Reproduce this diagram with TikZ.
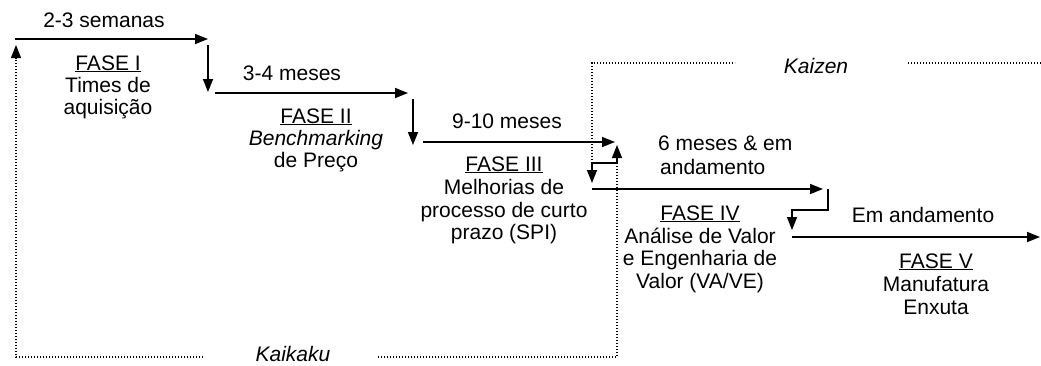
\documentclass[tikz,border=0pt]{standalone}
\usepackage{fontspec}
\setmainfont{Liberation Sans}
\usetikzlibrary{arrows.meta}
\newcommand\faseul[1]{\setbox0\hbox{#1}\rlap{\rule[-2.4pt]{\wd0}{1.5pt}}\box0}
\begin{document}
\begin{tikzpicture}[x=1pt,y=-1pt,
  txt/.style={inner sep=0pt,anchor=base,font=\fontsize{21}{22.5}\selectfont},
  ltxt/.style={txt,anchor=base west},
  itxt/.style={txt,font=\fontsize{21}{22.5}\selectfont\itshape},
  flow/.style={line width=1.5pt,-{Triangle[length=13pt,width=10pt]}},
  dots/.style={line width=1.3pt,dash pattern=on 1.3pt off 1.7pt},
  dotarrow/.style={dots,-{Triangle[length=13pt,width=10pt,sep=0pt]}}]
\useasboundingbox (0,0) rectangle (1041,365);

% coordinates
\coordinate (p1s) at (15,39);   \coordinate (p1e) at (208,39);
\coordinate (d1s) at (208,45);  \coordinate (d1e) at (208,92);
\coordinate (p2s) at (215,93);  \coordinate (p2e) at (408,93);
\coordinate (d2s) at (413,99);  \coordinate (d2e) at (413,145);
\coordinate (p3s) at (423,142); \coordinate (p3e) at (615,142);
\coordinate (j3) at (617,163);  \coordinate (u3e) at (617,145);
\coordinate (h3) at (592,163);  \coordinate (h3e) at (592,183);
\coordinate (p4s) at (592,189); \coordinate (p4e) at (823,189);
\coordinate (v4s) at (828,189); \coordinate (v4m) at (828,210);
\coordinate (h4e) at (792,230);
\coordinate (p5s) at (792,237); \coordinate (p5e) at (1040,237);
\coordinate (kkb) at (617,357); \coordinate (kkr) at (377,357);
\coordinate (kkl) at (203,357); \coordinate (kbl) at (16,357);
\coordinate (kkt) at (16,45);
\coordinate (kzt) at (592,63);  \coordinate (kzl) at (735,63);
\coordinate (kzr) at (908,63);  \coordinate (kze) at (1041,63);

% solid flow
\draw[flow] (p1s) -- (p1e);
\draw[flow] (d1s) -- (d1e);
\draw[flow] (p2s) -- (p2e);
\draw[flow] (d2s) -- (d2e);
\draw[flow] (p3s) -- (p3e);
\draw[flow] (j3) -- (u3e);
\draw[flow] (j3) -- (h3) -- (h3e);
\draw[flow] (p4s) -- (p4e);
\draw[flow] (v4s) -- (v4m) -| (h4e);
\draw[flow] (p5s) -- (p5e);

% dotted loops
\draw[dots] (j3) -- (kkb) -- (kkr);
\draw[dotarrow] (kkl) -- (kbl) -- (kkt);
\draw[dots] (h3) -- (kzt) -- (kzl);
\draw[dots] (kzr) -- (kze);

% labels
\node[txt] (t1) at (104,27) {2-3 semanas};
\node[txt] (f1a) at (108,70) {\faseul{FASE I}};
\node[txt] (f1b) at (108,92) {Times de};
\node[txt] (f1c) at (108,114) {aquisição};

\node[txt] (t2) at (292,80) {3-4 meses};
\node[txt] (f2a) at (316,123) {\faseul{FASE II}};
\node[txt] (f2b) at (316,145) {\itshape Benchmarking};
\node[txt] (f2c) at (316,167) {de Preço};

\node[txt] (t3) at (507,128) {9-10 meses};
\node[txt] (f3a) at (504,171) {\faseul{FASE III}};
\node[txt] (f3b) at (504,194) {Melhorias de};
\node[txt] (f3c) at (504,217) {processo de curto};
\node[txt] (f3d) at (504,239) {prazo (SPI)};

\node[ltxt] (t4a) at (658,150) {6 meses \& em};
\node[ltxt] (t4b) at (660,174) {andamento};
\node[txt] (f4a) at (700,220) {\faseul{FASE IV}};
\node[txt] (f4b) at (700,243) {Análise de Valor};
\node[txt] (f4c) at (700,265) {e Engenharia de};
\node[txt] (f4d) at (700,288) {Valor (VA/VE)};

\node[txt] (t5) at (923,222) {Em andamento};
\node[txt] (f5a) at (936,268) {\faseul{FASE V}};
\node[txt] (f5b) at (936,291) {Manufatura};
\node[txt] (f5c) at (936,314) {Enxuta};

\node[itxt] (kz) at (816,73) {Kaizen};
\node[itxt] (kk) at (293,361) {Kaikaku};
\end{tikzpicture}
\end{document}
